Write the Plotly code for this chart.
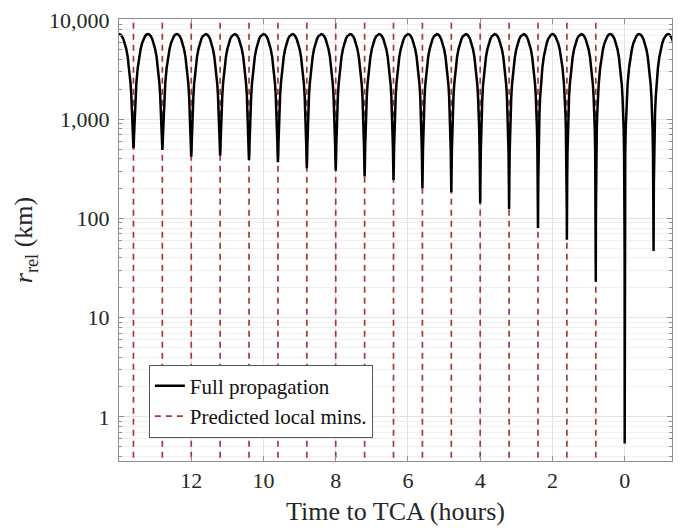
import plotly.graph_objects as go
import numpy as np

# ---- data ----
pred_min_t = [13.6, 12.8, 12.0, 11.2, 10.4, 9.6, 8.8, 8.0, 7.2, 6.4, 5.6, 4.8, 4.0, 3.2, 2.4, 1.6, 0.8]
full_min_t = [13.6, 12.8, 12.0, 11.2, 10.4, 9.6, 8.8, 8.0, 7.2, 6.4, 5.6, 4.8, 4.0, 3.2, 2.4, 1.6, 0.8, 0.0, -0.8]
full_min_r = [510, 490, 420, 430, 388, 368, 321, 304, 264, 244, 201, 184, 142, 124, 80, 61, 23, 0.54, 47]
period_h = 0.8
# one arch of the curve away from its cusp (phase of period, km)
arch_phase = [0.002, 0.005, 0.01, 0.02, 0.035, 0.05, 0.075, 0.1, 0.15, 0.2, 0.25, 0.3, 0.35, 0.4, 0.45, 0.5]
arch_r = [45, 113, 226, 452, 790, 1126, 1680, 2225, 3269, 4232, 5091, 5825, 6415, 6848, 7111, 7200]

x_ticks = [0, 2, 4, 6, 8, 10, 12]
y_ticks = [1, 10, 100, 1000, 10000]
y_ticktext = ["1", "10", "100", "1,000", "10,000"]

# ---- assemble curve from the read arches ----
pts = []
n = len(full_min_t)
for i, (tk, dk) in enumerate(zip(full_min_t, full_min_r)):
    pts.append((tk, dk))
    for ph, rv in zip(arch_phase, arch_r):
        r = float(np.hypot(rv, dk))
        pts.append((tk - ph * period_h, r))          # later side
        if ph < 0.5 or i == 0:
            pts.append((tk + ph * period_h, r))      # earlier side
    if i == 0:
        for ph, rv in zip(arch_phase[::-1][1:], arch_r[::-1][1:]):
            pts.append((tk + (1 - ph) * period_h, rv))
    if i == n - 1:
        for ph, rv in zip(arch_phase[::-1][1:], arch_r[::-1][1:]):
            pts.append((tk - (1 - ph) * period_h, rv))
pts.sort(key=lambda p: -p[0])
curve_t = [p[0] for p in pts]
curve_r = [p[1] for p in pts]

fig = go.Figure()
red = "#A83838"
for j, t in enumerate(pred_min_t):
    fig.add_trace(go.Scatter(
        x=[t, t], y=[0.3, 12000], mode="lines",
        line=dict(color=red, width=1.7, dash="6px,5px"),
        name="Predicted local mins.", showlegend=(j == 0), legendrank=2,
        hoverinfo="skip"))
fig.add_trace(go.Scatter(
    x=curve_t, y=curve_r, mode="lines",
    line=dict(color="black", width=2.5),
    name="Full propagation", legendrank=1))

font_family = "Liberation Serif"
axis_col = "#8f8f8f"
fig.update_layout(
    width=686, height=528,
    margin=dict(l=119, r=14, t=19, b=67),
    paper_bgcolor="white", plot_bgcolor="white",
    font=dict(family=font_family, size=22, color="#262626"),
    showlegend=True,
    legend=dict(x=0.054, y=0.218, xanchor="left", yanchor="top",
                bgcolor="white", bordercolor="#555555", borderwidth=1,
                font=dict(family=font_family, size=21, color="#111111"),
                tracegroupgap=0, itemwidth=30),
    xaxis=dict(range=[14, -1.31], tickvals=x_ticks, showline=True, mirror="ticks",
               linecolor=axis_col, linewidth=1, ticks="inside", ticklen=5,
               tickcolor=axis_col, showgrid=True, gridcolor="#e3e3e3", zeroline=False,
               tickfont=dict(family=font_family, size=22), automargin=False,
               title=dict(text="Time to TCA (hours)", font=dict(family=font_family, size=26), standoff=9),
               ticklabelstandoff=0),
    yaxis=dict(type="log", range=[-0.445, 4.01], tickvals=y_ticks, ticktext=y_ticktext,
               showline=True, mirror="ticks", linecolor=axis_col, linewidth=1,
               ticks="inside", ticklen=5, tickcolor=axis_col,
               showgrid=True, gridcolor="#e3e3e3", zeroline=False,
               tickfont=dict(family=font_family, size=22), automargin=False,
               minor=dict(ticks="inside", ticklen=3, tickcolor=axis_col, showgrid=True,
                          gridcolor="#f0f0f0", dtick="D1"),
               title=dict(text="<i>r</i><sub>rel</sub> (km)", font=dict(family=font_family, size=26), standoff=8),
               ticklabelstandoff=4),
)
fig.write_html("out.html")
